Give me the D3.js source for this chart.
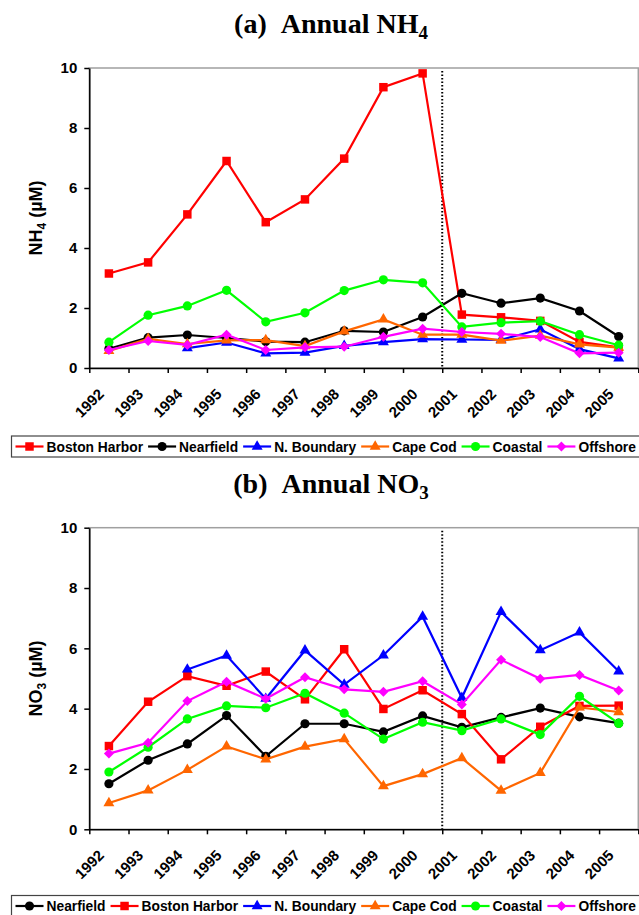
<!DOCTYPE html>
<html>
<head>
<meta charset="utf-8">
<script src="https://cdn.jsdelivr.net/npm/d3@7"></script>
<style>
  body { margin: 0; background: #fff; }
  svg { display: block; }
  .tick text { font-family: "Liberation Sans", Arial, sans-serif; font-weight: bold; font-size: 15px; }
</style>
</head>
<body>
<svg id="chart" width="639" height="915"></svg>
<script>
// years on the category axis
var years = ["1992","1993","1994","1995","1996","1997","1998","1999","2000","2001","2002","2003","2004","2005"];
var yTicks = [0, 2, 4, 6, 8, 10];

// (a) annual NH4, uM
var nh4Boston    = [3.15, 3.52, 5.12, 6.90, 4.86, 5.62, 6.98, 9.36, 9.82, 1.78, 1.69, 1.57, 0.87, 0.69];
var nh4Nearfield = [0.64, 1.01, 1.10, 1.00, 0.88, 0.86, 1.24, 1.20, 1.70, 2.49, 2.16, 2.33, 1.90, 1.05];
var nh4NBoundary = [null, null, 0.66, 0.85, 0.49, 0.51, 0.74, 0.86, 0.96, 0.95, 0.94, 1.29, 0.63, 0.32];
var nh4CapeCod   = [0.57, 0.97, 0.80, 0.92, 0.93, 0.73, 1.22, 1.62, 1.11, 1.11, 0.91, 1.08, 0.79, 0.68];
var nh4Coastal   = [0.86, 1.76, 2.07, 2.59, 1.54, 1.84, 2.58, 2.94, 2.84, 1.37, 1.51, 1.56, 1.11, 0.76];
var nh4Offshore  = [0.60, 0.90, 0.77, 1.11, 0.60, 0.69, 0.71, 1.04, 1.31, 1.20, 1.14, 1.03, 0.49, 0.51];

// (b) annual NO3, uM
var no3Nearfield = [1.51, 2.29, 2.83, 3.77, 2.42, 3.50, 3.50, 3.23, 3.76, 3.38, 3.71, 4.02, 3.73, 3.52];
var no3Boston    = [2.76, 4.23, 5.08, 4.76, 5.23, 4.31, 5.97, 3.99, 4.61, 3.82, 2.32, 3.40, 4.09, 4.10];
var no3NBoundary = [null, null, 5.30, 5.76, 4.33, 5.93, 4.80, 5.77, 7.05, 4.36, 7.21, 5.94, 6.53, 5.24];
var no3CapeCod   = [0.87, 1.29, 1.97, 2.75, 2.32, 2.74, 2.99, 1.43, 1.83, 2.36, 1.28, 1.87, 4.04, 3.89];
var no3Coastal   = [1.90, 2.72, 3.66, 4.09, 4.03, 4.51, 3.85, 2.99, 3.55, 3.27, 3.66, 3.14, 4.41, 3.51];
var no3Offshore  = [2.51, 2.87, 4.25, 4.89, 4.33, 5.04, 4.64, 4.56, 4.91, 4.14, 5.62, 4.99, 5.12, 4.60];

// the dotted line sits between these two years
var splitAfter = "2000";

var diamond = {
  draw: function(ctx, size) {
    var r = Math.sqrt(size) / 2 * 1.25;
    ctx.moveTo(0, -r); ctx.lineTo(r, 0); ctx.lineTo(0, r); ctx.lineTo(-r, 0); ctx.closePath();
  }
};

var styles = {
  "Boston Harbor": { color: "#ff0000", shape: d3.symbolSquare, size: 72 },
  "Nearfield":     { color: "#000000", shape: d3.symbolCircle, size: 66 },
  "N. Boundary":   { color: "#0000ff", shape: d3.symbolTriangle, size: 52 },
  "Cape Cod":      { color: "#ff6600", shape: d3.symbolTriangle, size: 52 },
  "Coastal":       { color: "#00ff00", shape: d3.symbolCircle, size: 66 },
  "Offshore":      { color: "#ff00ff", shape: diamond, size: 64 }
};

var svg = d3.select("#chart");
svg.append("rect").attr("width", 639).attr("height", 915).attr("fill", "#fff");

var sans = "'Liberation Sans', Arial, sans-serif";
var serif = "'Liberation Serif', 'Times New Roman', serif";

function panel(o) {
  var g = svg.append("g");
  var left = 89.3, right = 638.3;

  var xi = d3.scaleLinear().domain([0, years.length]).range([left, right]);
  var y = d3.scaleLinear().domain([0, 10]).range([o.bottom, o.top]);
  var cx = function(i) { return xi(i + 0.5); };

  // title
  var t = g.append("text")
      .attr("x", 331).attr("y", o.titleY)
      .attr("text-anchor", "middle")
      .attr("font-family", serif).attr("font-weight", "bold").attr("font-size", 28);
  t.append("tspan").text(o.title);
  t.append("tspan").attr("font-size", 19).attr("dy", 6).text(o.sub);

  // plot frame
  g.append("rect")
      .attr("x", left).attr("y", y(10))
      .attr("width", right - left).attr("height", y(0) - y(10))
      .attr("fill", "none").attr("stroke", "#a0a0a0").attr("stroke-width", 1.5);

  // y axis
  var ya = g.append("g")
      .attr("transform", "translate(" + left + ",0)")
      .call(d3.axisLeft(y).tickValues(yTicks).tickSize(5).tickSizeOuter(0).tickPadding(7));
  ya.select(".domain").attr("stroke", "#000").attr("stroke-width", 1.5);
  ya.selectAll(".tick line").attr("stroke-width", 1.5);

  // x axis, ticks between categories
  var xa = g.append("g")
      .attr("transform", "translate(0," + y(0) + ")")
      .call(d3.axisBottom(xi).tickValues(d3.range(years.length + 1)).tickFormat("").tickSize(5).tickSizeOuter(0));
  xa.select(".domain").attr("stroke", "#000").attr("stroke-width", 1.5);
  xa.selectAll(".tick line").attr("stroke-width", 1.5);

  g.selectAll(".yr")
    .data(years)
    .enter().append("text")
      .attr("class", "yr")
      .attr("transform", function(d, i) { return "translate(" + (cx(i) - 4) + "," + (y(0) + 27) + ") rotate(-45)"; })
      .attr("text-anchor", "end")
      .attr("font-family", sans).attr("font-weight", "bold").attr("font-size", 15)
      .text(function(d) { return d; });

  // y label
  var yl = g.append("text")
      .attr("transform", "translate(42," + ((y(0) + y(10)) / 2) + ") rotate(-90)")
      .attr("text-anchor", "middle")
      .attr("font-family", sans).attr("font-weight", "bold").attr("font-size", 18);
  yl.append("tspan").text(o.ylab);
  yl.append("tspan").attr("font-size", 12).attr("dy", 4).text(o.sub);
  yl.append("tspan").attr("dy", -4).text(" (\u00b5M)");

  // dotted divider
  var sx = xi(years.indexOf(splitAfter) + 1);
  g.append("line")
      .attr("x1", sx).attr("x2", sx).attr("y1", y(10) + 3).attr("y2", y(0))
      .attr("stroke", "#000").attr("stroke-width", 2).attr("stroke-dasharray", "1.5,2");

  // series
  var line = d3.line()
      .defined(function(d) { return d != null; })
      .x(function(d, i) { return cx(i); })
      .y(function(d) { return y(d); });

  o.series.forEach(function(s) {
    var st = styles[s.name];
    g.append("path")
        .attr("d", line(s.values))
        .attr("fill", "none").attr("stroke", st.color).attr("stroke-width", 2.2);
    g.selectAll(null)
      .data(s.values.map(function(v, i) { return { v: v, i: i }; }).filter(function(d) { return d.v != null; }))
      .enter().append("path")
        .attr("transform", function(d) { return "translate(" + cx(d.i) + "," + y(d.v) + ")"; })
        .attr("d", d3.symbol().type(st.shape).size(st.size))
        .attr("fill", st.color);
  });

  // legend
  var lg = g.append("g");
  lg.append("rect")
      .attr("x", 11.5).attr("y", o.legendY)
      .attr("width", 640).attr("height", 21)
      .attr("fill", "#fff").attr("stroke", "#444").attr("stroke-width", 1.2);
  var lx = 15.5;
  o.series.forEach(function(s) {
    var st = styles[s.name];
    var my = o.legendY + 10.5;
    lg.append("line")
        .attr("x1", lx).attr("x2", lx + 28).attr("y1", my).attr("y2", my)
        .attr("stroke", st.color).attr("stroke-width", 2.2);
    lg.append("path")
        .attr("transform", "translate(" + (lx + 14) + "," + my + ")")
        .attr("d", d3.symbol().type(st.shape).size(st.size))
        .attr("fill", st.color);
    var tx = lg.append("text")
        .attr("x", lx + 31).attr("y", o.legendY + 15.5)
        .attr("font-family", sans).attr("font-weight", "bold").attr("font-size", 13.8)
        .text(s.name);
    lx = lx + 31 + tx.node().getComputedTextLength() + 5;
  });
}

panel({
  title: "(a)\u00a0\u00a0Annual NH", sub: "4", ylab: "NH",
  titleY: 33, top: 68, bottom: 368, legendY: 436,
  series: [
    { name: "Boston Harbor", values: nh4Boston },
    { name: "Nearfield", values: nh4Nearfield },
    { name: "N. Boundary", values: nh4NBoundary },
    { name: "Cape Cod", values: nh4CapeCod },
    { name: "Coastal", values: nh4Coastal },
    { name: "Offshore", values: nh4Offshore }
  ]
});

panel({
  title: "(b)\u00a0\u00a0Annual NO", sub: "3", ylab: "NO",
  titleY: 493, top: 527.7, bottom: 829.3, legendY: 895.5,
  series: [
    { name: "Nearfield", values: no3Nearfield },
    { name: "Boston Harbor", values: no3Boston },
    { name: "N. Boundary", values: no3NBoundary },
    { name: "Cape Cod", values: no3CapeCod },
    { name: "Coastal", values: no3Coastal },
    { name: "Offshore", values: no3Offshore }
  ]
});
</script>
</body>
</html>
